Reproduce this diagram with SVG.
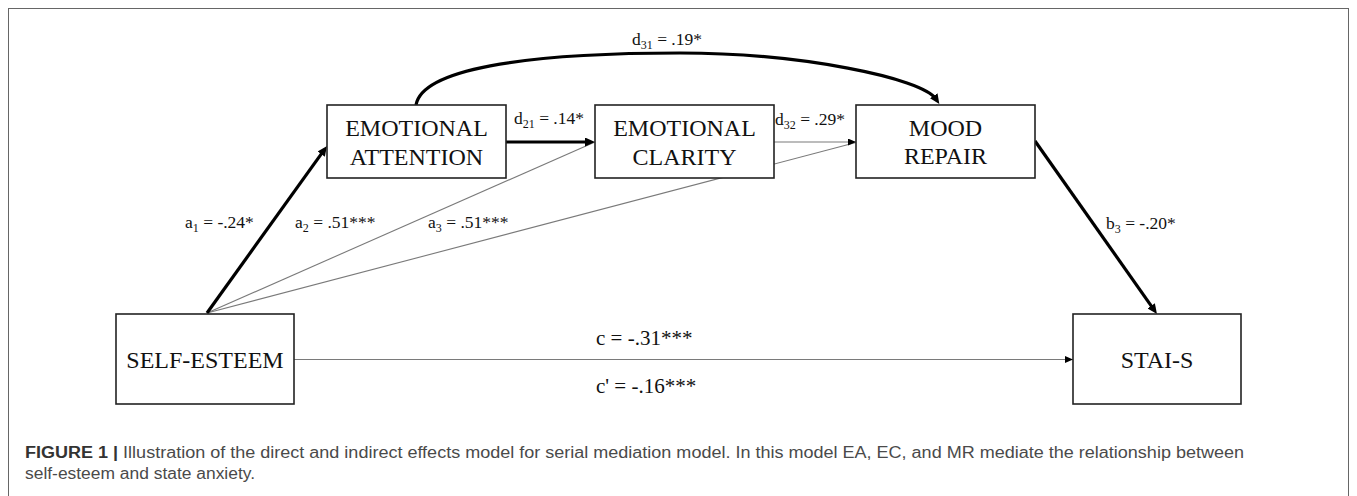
<svg xmlns="http://www.w3.org/2000/svg" width="1357" height="496" viewBox="0 0 1357 496">
<style>
.box{fill:#fff;stroke:#222;stroke-width:1.6}
.nt{font-family:"Liberation Serif","Times New Roman",serif;font-size:24px;fill:#111;text-anchor:middle}
.lb{font-family:"Liberation Serif","Times New Roman",serif;font-size:17.5px;fill:#111}
.lc{font-family:"Liberation Serif","Times New Roman",serif;font-size:21px;fill:#111}
.thick{fill:none;stroke:#000;stroke-width:3.2}
.thin{fill:none;stroke:#7a7a7a;stroke-width:1.1}
.cap{font-family:"Liberation Sans",Arial,sans-serif;font-size:16px;fill:#4a4a4a}
</style>
<defs>
<marker id="ah" markerUnits="userSpaceOnUse" markerWidth="11" markerHeight="9" refX="4" refY="4.5" orient="auto">
<path d="M0,0 L10,4.5 L0,9 z" fill="#000"/>
</marker>
<marker id="as" markerUnits="userSpaceOnUse" markerWidth="9" markerHeight="7" refX="8" refY="3.5" orient="auto">
<path d="M0,0 L8,3.5 L0,7 z" fill="#000"/>
</marker>
</defs>
<rect x="8.5" y="8.5" width="1340" height="520" fill="none" stroke="#666" stroke-width="1"/>
<g id="connectors">
<line class="thin" x1="207" y1="313" x2="595" y2="142"/>
<line class="thin" x1="207" y1="313" x2="856" y2="142.5"/>
<line class="thick" x1="207" y1="313" x2="323.5" y2="150.9" marker-end="url(#ah)"/>
<line class="thick" x1="506" y1="142" x2="589" y2="142" marker-end="url(#ah)"/>
<line class="thin" x1="774" y1="142" x2="856" y2="142" marker-end="url(#as)"/>
<path class="thick" d="M416,105 C422,70 520,53 680,53 C800,53 922,78 936,99" marker-end="url(#ah)"/>
<line class="thick" x1="1035" y1="141" x2="1153.5" y2="309.1" marker-end="url(#ah)"/>
<line class="thin" x1="294" y1="359.5" x2="1073" y2="359.5" marker-end="url(#as)"/>
<text class="lb" x="632" y="45">d<tspan font-size="12" dy="4">31</tspan><tspan dy="-4"> = .19*</tspan></text>
<text class="lb" x="514" y="124">d<tspan font-size="12" dy="4">21</tspan><tspan dy="-4"> = .14*</tspan></text>
<text class="lb" x="775" y="125">d<tspan font-size="12" dy="4">32</tspan><tspan dy="-4"> = .29*</tspan></text>
<text class="lb" x="185" y="228">a<tspan font-size="12" dy="4">1</tspan><tspan dy="-4"> = -.24*</tspan></text>
<text class="lb" x="295" y="228">a<tspan font-size="12" dy="4">2</tspan><tspan dy="-4"> = .51***</tspan></text>
<text class="lb" x="428" y="228">a<tspan font-size="12" dy="4">3</tspan><tspan dy="-4"> = .51***</tspan></text>
<text class="lb" x="1106" y="229">b<tspan font-size="12" dy="4">3</tspan><tspan dy="-4"> = -.20*</tspan></text>
<text class="lc" x="596" y="345">c = -.31***</text>
<text class="lc" x="596" y="393">c' = -.16***</text>
</g>
<g id="emotional-attention">
<rect class="box" x="327" y="105" width="179" height="73"/>
<text class="nt" x="416.5" y="135.5">EMOTIONAL</text>
<text class="nt" x="416.5" y="165">ATTENTION</text>
</g>
<g id="emotional-clarity">
<rect class="box" x="595" y="105" width="179" height="73"/>
<text class="nt" x="684.5" y="135.5">EMOTIONAL</text>
<text class="nt" x="684.5" y="165">CLARITY</text>
</g>
<g id="mood-repair">
<rect class="box" x="856" y="105" width="179" height="73"/>
<text class="nt" x="945.5" y="135.5">MOOD</text>
<text class="nt" x="945.5" y="164">REPAIR</text>
</g>
<g id="self-esteem">
<rect class="box" x="116" y="314" width="178" height="90"/>
<text class="nt" x="205" y="367.5">SELF-ESTEEM</text>
</g>
<g id="stai-s">
<rect class="box" x="1073" y="314" width="168" height="90"/>
<text class="nt" x="1157" y="368">STAI-S</text>
</g>
<g id="caption">
<text class="cap" x="25" y="458" textLength="1219" lengthAdjust="spacingAndGlyphs"><tspan font-weight="bold" fill="#333">FIGURE 1 |</tspan> Illustration of the direct and indirect effects model for serial mediation model. In this model EA, EC, and MR mediate the relationship between</text>
<text class="cap" x="25" y="478.5" textLength="230" lengthAdjust="spacingAndGlyphs">self-esteem and state anxiety.</text>
</g>
</svg>
